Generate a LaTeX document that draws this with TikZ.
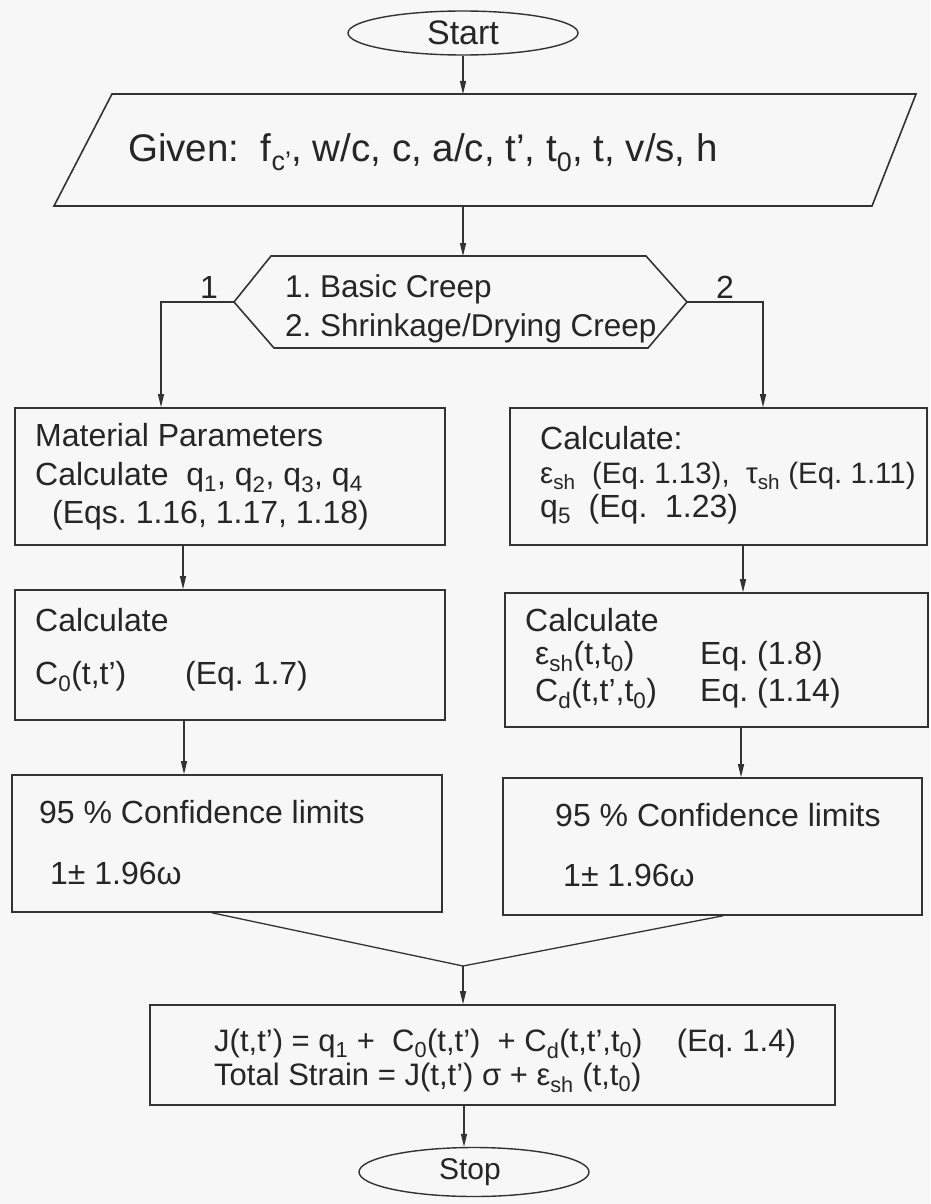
\documentclass[tikz,border=0pt]{standalone}
\usepackage{fontspec}
\setmainfont{Liberation Sans}
\usetikzlibrary{arrows.meta,shapes.geometric}
\begin{document}
\frenchspacing
\begin{tikzpicture}[x=1pt,y=-1pt,
  box/.style={draw=black!80, line width=1.6pt, rectangle, inner sep=0pt},
  term/.style={draw=black!80, line width=1.4pt, ellipse, inner sep=0pt},
  shapeline/.style={draw=black!80, line width=1.6pt, line join=miter},
  arr/.style={draw=black!80, line width=1.3pt, -{Triangle[length=13pt,width=6pt]}},
  conn/.style={draw=black!80, line width=1.3pt},
  txt/.style={anchor=base west, inner sep=0pt, text=black!85, font=\fontsize{32}{38}\selectfont},
  jtxt/.style={txt, font=\fontsize{31}{37}\selectfont},
]
\fill[black!3] (0,0) rectangle (930,1204);
\useasboundingbox (0,0) rectangle (930,1204);

% Start
\node[term, minimum width=230, minimum height=44] (start) at (463,33) {};
\node[inner sep=0pt, text=black!85, font=\fontsize{34}{40}\selectfont] (starttxt) at (463,33) {Start};

% Given parallelogram
\draw[shapeline] (112,94) -- (916,94) -- (872,206) -- (54,206) -- cycle;
\coordinate (gtop) at (463,94);
\coordinate (gbot) at (463,206);
\node[txt, font=\fontsize{38.5}{46}\selectfont] (given) at (128,161)
  {Given:~~f\textsubscript{c'}, w/c, c, a/c, t', t\textsubscript{0}, t, v/s, h};

% Hexagon
\draw[shapeline] (271,256) -- (646,256) -- (687,302) -- (648,348) -- (274,348) -- (234,302) -- cycle;
\coordinate (htop) at (463,256);
\coordinate (hexL) at (234,302);
\coordinate (hexR) at (687,302);
\node[txt, font=\fontsize{31.5}{37}\selectfont] (hexa) at (285,297) {1. Basic Creep};
\node[txt, font=\fontsize{31.5}{37}\selectfont] (hexb) at (285,336) {2. Shrinkage/Drying Creep};
\node[txt] (lab1) at (200,298) {1};
\node[txt] (lab2) at (716,298) {2};

% Boxes
\node[box, minimum width=430, minimum height=137] (lb1) at (230,476.5) {};
\node[box, minimum width=417, minimum height=137] (rb1) at (718.5,476.5) {};
\node[box, minimum width=430, minimum height=130] (lb2) at (230,655) {};
\node[box, minimum width=423, minimum height=134] (rb2) at (716.5,660) {};
\node[box, minimum width=430, minimum height=137] (lb3) at (227,843.5) {};
\node[box, minimum width=419, minimum height=137] (rb3) at (712.5,846.5) {};
\node[box, minimum width=685, minimum height=100] (jbox) at (492.5,1055) {};

% Stop
\node[term, minimum width=230, minimum height=49] (stop) at (474,1172) {};
\node[inner sep=0pt, text=black!85, font=\fontsize{30}{36}\selectfont] (stoptxt) at (470,1172) {Stop};

% Box texts
\node[txt] (lb1a) at (35,446) {Material Parameters};
\node[txt] (lb1b) at (35,485) {Calculate~~q\textsubscript{1}, q\textsubscript{2}, q\textsubscript{3}, q\textsubscript{4}};
\node[txt] (lb1c) at (52,523) {(Eqs. 1.16, 1.17, 1.18)};

\node[txt] (rb1a) at (540,449) {Calculate:};
\node[txt, font=\fontsize{29.5}{36}\selectfont] (rb1b) at (540,483) {ε\textsubscript{sh}~~(Eq. 1.13),~~τ\textsubscript{sh}~(Eq. 1.11)};
\node[txt] (rb1c) at (540,517) {q\textsubscript{5}~~(Eq.~~1.23)};

\node[txt] (lb2a) at (35,631) {Calculate};
\node[txt] (lb2b) at (35,684) {C\textsubscript{0}(t,t')};
\node[txt] (lb2c) at (185,684) {(Eq. 1.7)};

\node[txt] (rb2a) at (525,631) {Calculate};
\node[txt] (rb2b) at (535,664) {ε\textsubscript{sh}(t,t\textsubscript{0})};
\node[txt] (rb2c) at (700,664) {Eq. (1.8)};
\node[txt] (rb2d) at (535,701) {C\textsubscript{d}(t,t',t\textsubscript{0})};
\node[txt] (rb2e) at (700,701) {Eq. (1.14)};

\node[txt] (lb3a) at (39,823) {95 \% Confidence limits};
\node[txt] (lb3b) at (50,884) {1± 1.96ω};
\node[txt] (rb3a) at (555,826) {95 \% Confidence limits};
\node[txt] (rb3b) at (563,886) {1± 1.96ω};

\node[jtxt] (ja) at (214,1051) {J(t,t') = q\textsubscript{1} +~~C\textsubscript{0}(t,t')~~+ C\textsubscript{d}(t,t',t\textsubscript{0})~~~~(Eq. 1.4)};
\node[jtxt] (jb) at (214,1085) {Total Strain = J(t,t')~σ + ε\textsubscript{sh}~(t,t\textsubscript{0})};

% Connectors
\draw[arr] (start.south) -- (gtop);
\draw[arr] (gbot) -- (htop);
\draw[arr] (hexL) -| ([xshift=-69pt]lb1.north);
\draw[arr] (hexR) -| ([xshift=44.5pt]rb1.north);
\draw[arr] ([xshift=-47pt]lb1.south) -- ([xshift=-47pt]lb2.north);
\draw[arr] ([xshift=-46pt]lb2.south) -- ([xshift=-43pt]lb3.north);
\draw[arr] ([xshift=24.5pt]rb1.south) -- ([xshift=26.5pt]rb2.north);
\draw[arr] ([xshift=24.5pt]rb2.south) -- ([xshift=28.5pt]rb3.north);
\coordinate (m) at (463,966);
\draw[conn] ([xshift=-15pt]lb3.south) -- (m);
\draw[conn] ([xshift=10.5pt]rb3.south) -- (m);
\draw[arr] (m) -- (m |- jbox.north);
\draw[arr] ([xshift=-28.5pt]jbox.south) -- ([xshift=-10pt]stop.north);
\end{tikzpicture}
\end{document}
